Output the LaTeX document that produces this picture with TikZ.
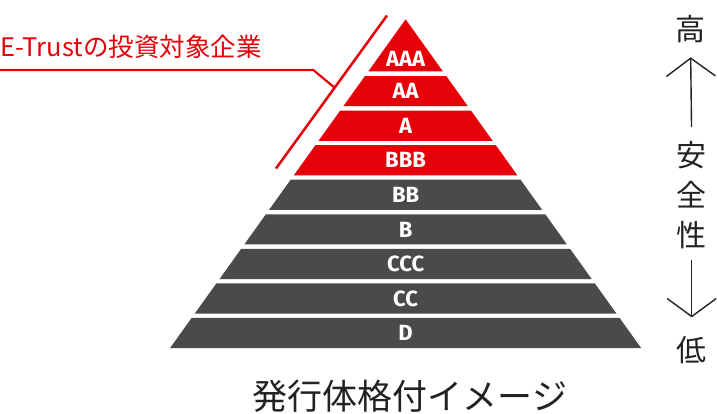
\documentclass[tikz,border=0pt]{standalone}
\usepackage{fontspec}
\setmainfont{Noto Sans CJK JP}
\newfontfamily\rankfont{Fira Sans}
\usetikzlibrary{arrows.meta, positioning, calc}
\definecolor{ered}{HTML}{E60008}
\definecolor{egray}{HTML}{4A4A4A}
\definecolor{eink}{HTML}{222222}

\begin{document}
\begin{tikzpicture}[x=1bp, y=-1bp,
    rank/.style={text=white, inner sep=0pt, font=\rankfont\bfseries\fontsize{22bp}{26bp}\selectfont},
    kanji/.style={text=eink, inner sep=0pt, font=\fontsize{30bp}{40bp}\selectfont},
    safety/.style={-{Straight Barb[length=18bp,width=49bp]}, eink, line width=1.4bp}]
  \useasboundingbox (0,0) rectangle (717,413);

  % top of the pyramid
  \fill[ered] (405.6,19.3) -- (442.9,71.4) -- (368.3,71.4) -- cycle;
  \node[rank] (r0) at (405.6,59) {AAA};

  % the bands below
  \foreach \lab/\col [count=\i] in {AA/ered, A/ered, BBB/ered, BB/egray, B/egray, CCC/egray, CC/egray, D/egray} {
    \pgfmathsetmacro\yt{76+(\i-1)*34.57}
    \pgfmathsetmacro\yb{\yt+30.2}
    \pgfmathsetmacro\wt{0.7165*(\yt-19.3)}
    \pgfmathsetmacro\wb{0.7165*(\yb-19.3)}
    \fill[fill=\col] (405.6-\wt,\yt) -- (405.6+\wt,\yt) -- (405.6+\wb,\yb) -- (405.6-\wb,\yb) -- cycle;
    \node[rank] (r\i) at (405.6,\yt+15.1) {\lab};
  }

  % E-Trust marker
  \draw[ered, line width=2.5bp] (387,15.5) coordinate (cut top) -- (276,168.5) coordinate (cut bot);
  \node[anchor=west, text=ered, inner sep=0pt, font=\fontsize{25.5bp}{30bp}\selectfont] (etrust) at (0,47) {E-Trustの投資対象企業};
  \coordinate (knee) at (313.3,70);
  \draw[ered, line width=2.2bp] (etrust.west |- knee) -- (knee) -- ($(cut top)!0.472!(cut bot)$);

  % scale on the right
  \node[kanji] (hi) at (690.5,29) {高};
  \node[kanji, align=center] (saf) at (691.7,195.5) {安\\全\\性};
  \node[kanji] (lo) at (691.7,350) {低};
  \draw[safety, shorten <=14.4bp, shorten >=14.3bp] (saf.north) -- (hi.south);
  \draw[safety, shorten <=10.3bp, shorten >=18.7bp] (saf.south) -- (lo.north);

  \node[text=eink, inner sep=0pt, font=\fontsize{35bp}{40bp}\selectfont] (cap) at (410,396) {発行体格付イメージ};
\end{tikzpicture}
\end{document}
